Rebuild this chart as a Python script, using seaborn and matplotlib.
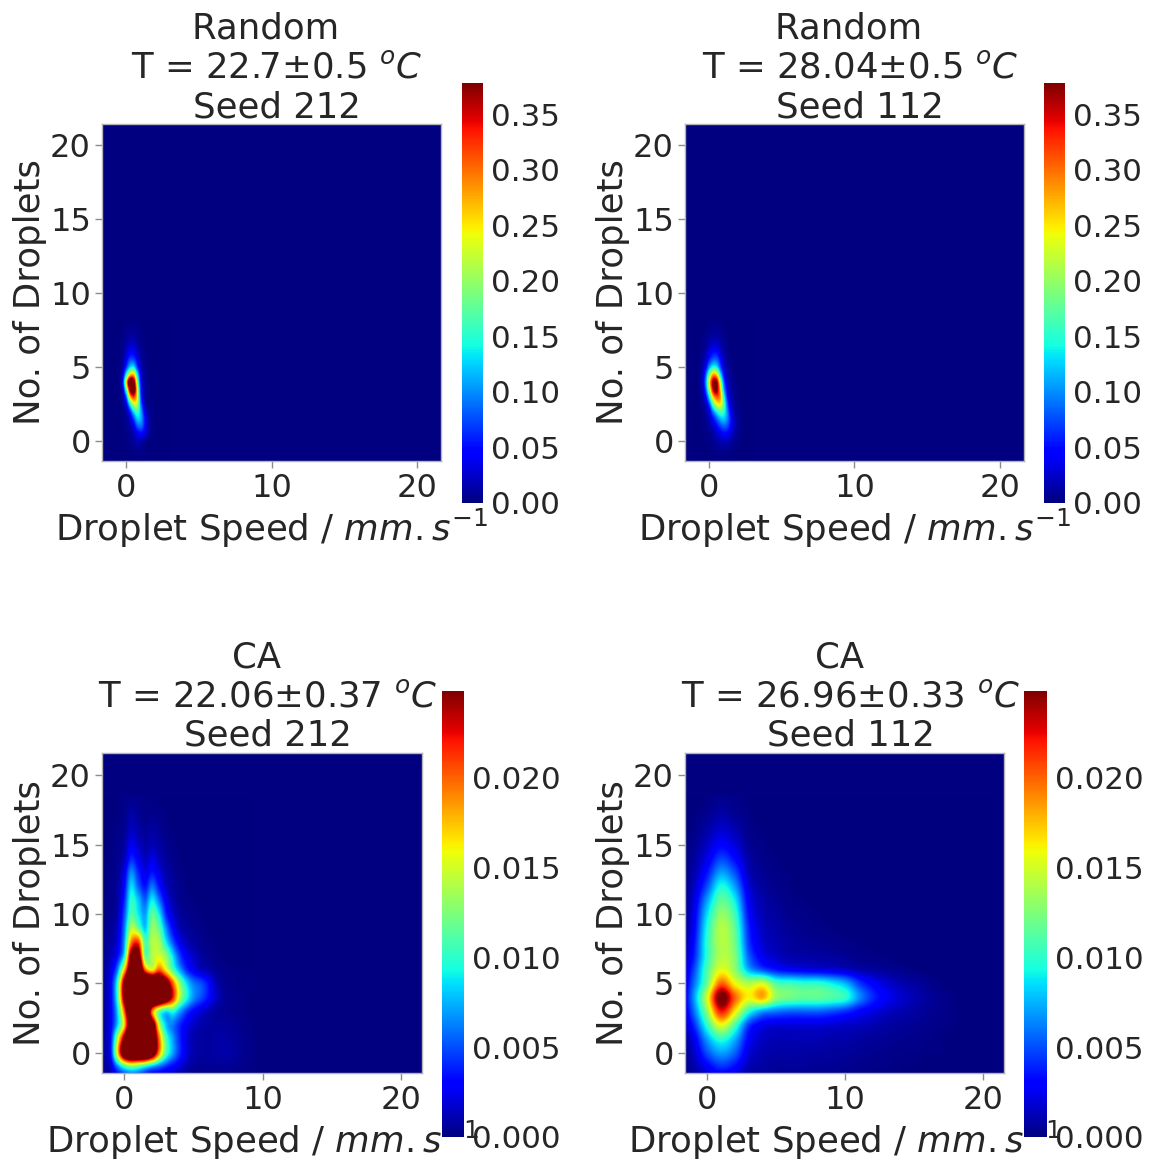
import numpy as np
import matplotlib
matplotlib.use("Agg")
import matplotlib.pyplot as plt
import seaborn as sns

sns.set_theme(style="ticks")
plt.rcParams["font.family"] = ["DejaVu Sans"]
plt.rcParams["mathtext.default"] = "it"
plt.rcParams["mathtext.fontset"] = "dejavusans"

TEXT = ".15"
FS_LABEL = 25.6
FS_TICK = 23
FS_CBAR = 22.3
W, H = 1150, 1160

# ---- data ---------------------------------------------------------------
# Top panels: cells of 0.25 (speed) by 0.5 (droplets), values in units of 0.01
top_x = np.arange(-1, 3.01, 0.25)
top_y = np.arange(-1, 8.01, 0.5)
# bottom panels: values in units of 0.001
bl_x = np.arange(-2, 9.01, 0.5)
bl_y = np.arange(-2, 18.01, 1)
br_x = np.arange(-2, 20.01, 1)
br_y = np.arange(-2, 18.01, 1)

random_212 = [
    [0, 0, 0, 0, .1, .1, .1, .2, .2, .2, .1, .1],
    [0, 0, 0, .1, .1, .2, .4, .6, .5, .3, .1, .1],
    [0, 0, 0, .1, .2, .5, 1.2, 1.8, 1.5, .7, .2, .1],
    [0, 0, 0, .1, .3, .7, 1.5, 3.5, 4.5, 3.2, 1.3, .4, .1],
    [0, 0, 0, .2, .5, 1.2, 3.5, 7.5, 8.5, 5, 1.6, .5, .1],
    [0, 0, 0, .2, .7, 2.5, 7, 12, 11, 5.5, 1.6, .5, .1],
    [0, 0, .1, .4, 1.5, 6, 13, 16, 11, 4, 1, .4, .1],
    [0, 0, .1, .8, 4, 14, 22, 21, 9, 2, .5, .2, .1],
    [0, 0, .2, 1.6, 9, 26, 32, 24, 7, 1.3, .4, .1, .1],
    [0, 0, .3, 3, 18, 38, 42, 24, 6, 1.3, .4, .1],
    [0, 0, .4, 5, 26, 44, 40, 20, 4.5, 1, .3, .1],
    [0, 0, .4, 3.5, 15, 26, 27, 14, 3.5, 1, .3, .1],
    [0, 0, .3, 1.5, 7, 13, 14, 7, 2, .6, .1],
    [0, 0, .2, 1, 4, 7.5, 7.5, 4, 1.2, .4, .1],
    [0, 0, .1, .8, 2.3, 4.3, 4.3, 2.3, .8, .3, .1],
    [0, 0, .1, .5, 1.4, 2.5, 2.5, 1.4, .5, .2],
    [0, 0, .1, .3, .8, 1.2, 1.2, .8, .3, .2],
    [0, 0, 0, .2, .4, .6, .6, .4, .2, .1],
    [0, 0, 0, .1, .2, .3, .3, .2, .1],
]

random_112 = [
    [0, 0, .1, .1, .1, .2, .2, .2, .2, .2, .2, .1, .1],
    [0, .1, .1, .1, .2, .3, .5, .7, .7, .6, .4, .2, .1, .1],
    [0, .1, .1, .2, .3, .6, 1.2, 1.8, 2, 1.7, 1.1, .6, .3, .1],
    [0, .1, .1, .2, .5, 1.1, 2.3, 3.5, 4.5, 3.9, 2.5, 1.3, .5, .2, .1],
    [0, .1, .2, .4, 1.1, 2.3, 4.6, 6.8, 8, 7, 4, 1.8, .8, .3, .1],
    [0, .1, .2, .7, 1.8, 4.6, 8, 11, 12, 9.2, 4.6, 1.8, .7, .2, .1],
    [0, .1, .3, 1.2, 3.5, 9.5, 14, 17, 15, 9.2, 3.5, 1.4, .6, .2, .1],
    [0, .1, .6, 2.2, 7.5, 17, 23, 24, 17, 7.5, 2.4, .9, .3, .1],
    [0, .2, 1, 4.5, 14, 26, 31, 28, 15, 5, 1.6, .6, .2, .1],
    [0, .4, 1.6, 8, 21, 35, 38, 26, 11, 3.7, 1.2, .5, .1],
    [0, .4, 2, 10, 25, 37, 37, 22, 8, 2.5, .9, .3, .1],
    [0, .4, 1.8, 8, 19, 28, 26, 14, 5, 1.6, .6, .2, .1],
    [0, .3, 1.3, 4.5, 11, 15, 14, 8, 3, 1.1, .4, .1],
    [0, .2, .8, 2.6, 6, 8.5, 8.5, 5, 2, .7, .2, .1],
    [0, .1, .5, 1.5, 3.5, 5, 5, 3, 1.2, .5, .1],
    [0, .1, .3, .8, 1.8, 2.7, 2.7, 1.7, .8, .3, .1],
    [0, 0, .2, .5, 1, 1.4, 1.4, 1, .5, .2],
    [0, 0, .1, .2, .5, .7, .7, .5, .2, .1],
    [0, 0, 0, .1, .2, .3, .3, .2, .1],
]

ca_212 = [
    [.3, .4, .7, 1.5, 2.5, 3, 3, 2.5, 2, 1.5, 1, .7, .5, .3, .2, .2, .2, .2, .2, .2, .2, .2, .1],
    [.3, .6, 1.5, 6, 10, 12, 11, 9, 7, 5.5, 4, 3, 2, 1, .6, .5, .5, .5, .5, .5, .4, .3, .2],
    [.4, .8, 3, 16, 30, 36, 36, 36, 30, 19, 11, 7, 4, 2, 1, .8, .7, .8, .9, .9, .7, .4, .3],
    [.4, .8, 3, 14, 26, 38, 38, 38, 32, 20, 11, 7, 4, 2, 1, .8, .7, .8, .9, .8, .6, .4, .3],
    [.4, .7, 2.5, 8, 17, 32, 38, 38, 30, 15, 8, 6, 4, 2.5, 1.5, 1, .8, .7, .7, .6, .5, .3, .2],
    [.3, .7, 2.5, 8, 20, 34, 40, 36, 20, 12, 9, 10, 7, 4.5, 3, 2, 1.2, .7, .5, .4, .3, .2, .1],
    [.3, .7, 2.5, 10, 26, 38, 42, 42, 40, 36, 30, 22, 14, 9.5, 6.5, 5, 3.5, 1.8, .8, .4, .3, .2, .1],
    [.3, .7, 2.5, 10, 26, 38, 42, 40, 38, 34, 28, 20, 13, 8.5, 6, 5, 3.5, 1.5, .6, .3, .2, .1, .1],
    [.3, .6, 2, 6, 17, 30, 34, 20, 16, 20, 16, 11, 7, 4, 2.5, 1.5, 1, .5, .3, .2, .1, .1, .1],
    [.3, .5, 1.2, 3, 9, 26, 28, 12, 14, 15, 13, 8.5, 4.5, 2.5, 1.5, .8, .4, .2, .1],
    [.2, .4, .8, 2, 7, 19, 21, 11, 14, 13.5, 9, 5, 2.5, 1.2, .7, .4, .2, .1],
    [.2, .3, .6, 1.5, 6, 14, 12, 8, 13, 11.5, 6.5, 3, 1.2, .7, .4, .2, .1],
    [.1, .2, .4, 1, 5, 11, 9, 7, 11.5, 9, 4, 1.8, .7, .4, .2, .1],
    [.1, .2, .3, .8, 4, 10, 8, 5.5, 9, 6, 2.5, 1, .4, .2, .1],
    [.1, .1, .3, .7, 3, 8.5, 5.5, 3.5, 6, 3.5, 1.5, .7, .3, .1],
    [.1, .1, .2, .5, 2.2, 6.5, 4, 2.2, 3.5, 2.2, 1, .5, .2, .1],
    [0, .1, .1, .4, 1.2, 4, 2.6, 1.4, 2.2, 1.3, .6, .3, .1],
    [0, 0, .1, .3, .8, 2.5, 1.6, .8, 1.2, .8, .4, .2],
    [0, 0, .1, .2, .5, 1.5, 1, .5, .8, .5, .2, .1],
    [0, 0, 0, .1, .3, 1, .6, .3, .4, .3, .1],
    [0, 0, 0, .1, .2, .5, .3, .2, .2, .1],
]

ca_112 = [
    [.1, .4, 1.2, 1.8, 1.2, .6, .5, .4, .4, .3, .3, .3, .2, .2, .1, .1, .1],
    [.2, .9, 2.7, 4.2, 3.2, 1.2, .8, .6, .6, .6, .5, .5, .4, .3, .2, .2, .1, .1],
    [.3, 1.4, 5, 7, 5.5, 2, 1.1, .9, .9, .8, .8, .7, .6, .5, .4, .3, .2, .2, .1, .1],
    [.4, 2.2, 7, 10, 7.5, 3, 1.5, 1.2, 1.2, 1.2, 1.2, 1, 1, .8, .6, .5, .4, .3, .2, .1],
    [.5, 3.8, 10, 15.5, 11, 4.5, 2.5, 2, 2, 2, 2, 1.8, 1.6, 1.4, 1.1, .8, .6, .5, .3, .2, .1],
    [.6, 5.5, 13, 22, 16.5, 10, 7, 6, 5.5, 5.5, 5.5, 5, 4.2, 3, 2.2, 1.5, 1.1, .8, .5, .3, .1],
    [.7, 6.5, 15, 26, 20, 16, 18, 13, 12, 11.5, 11.5, 11, 10, 6.5, 4, 2.6, 1.7, 1.1, .6, .3, .1],
    [.6, 5.5, 12, 20, 16, 14, 15, 11, 10.5, 10, 10, 9, 7.5, 4.5, 2.8, 1.8, 1.1, .7, .4, .1],
    [.5, 4.5, 11, 15.5, 13, 7.5, 5, 3.5, 2.8, 2.5, 2.2, 2, 1.6, 1, .7, .5, .3, .1],
    [.4, 3.5, 10, 14, 12.5, 5.5, 2.5, 1.5, 1, .9, .8, .7, .5, .3, .2, .1],
    [.3, 3, 10, 14, 12, 4.5, 1.8, 1.1, .7, .5, .4, .3, .2, .1],
    [.3, 2.5, 9.5, 14, 11.5, 4, 1.5, .9, .5, .3, .2, .1],
    [.2, 2.2, 8.5, 13, 10.5, 3.3, 1.2, .7, .3, .2, .1],
    [.2, 1.8, 7, 11.5, 9, 2.7, 1, .5, .2, .1],
    [.2, 1.3, 5, 9.5, 7, 2, .7, .3, .1],
    [.1, .9, 3.5, 7, 5, 1.3, .5, .2, .1],
    [.1, .6, 2.3, 4.7, 3.2, .9, .3, .1],
    [0, .4, 1.5, 3, 2, .5, .2],
    [0, .2, .9, 1.8, 1.2, .3, .1],
    [0, .1, .5, 1, .6, .2],
    [0, 0, .2, .5, .3, .1],
]

top_ticks = [0.00, 0.05, 0.10, 0.15, 0.20, 0.25, 0.30, 0.35]
bot_ticks = [0.000, 0.005, 0.010, 0.015, 0.020]
xticks_ = [0, 10, 20]
yticks_ = [0, 5, 10, 15, 20]
xlabel_ = "Droplet Speed / $mm.s^{-1}$"
ylabel_ = "No. of Droplets"

# name, T, seed, data, unit, xs, ys, axes px (l, t, r, b), cbar px (l, t, r, b),
# x limits, y limits, vmax, ticks, tick format, title centre px
panels = [
    ("Random  ", "T = 22.7±0.5 $^oC$", "Seed 212", random_212, 0.01, top_x, top_y,
     (102, 124, 441, 461), (462, 83, 483, 503), (-1.65, 21.65), (-1.35, 21.4),
     0.378, top_ticks, "%.2f", 277),
    ("Random  ", "T = 28.04±0.5 $^oC$", "Seed 112", random_112, 0.01, top_x, top_y,
     (685, 124, 1024, 461), (1044, 83, 1065, 503), (-1.65, 21.65), (-1.35, 21.4),
     0.378, top_ticks, "%.2f", 860),
    ("CA  ", "T = 22.06±0.37 $^oC$", "Seed 212", ca_212, 0.001, bl_x, bl_y,
     (102, 753, 422, 1073), (442, 691, 464, 1137), (-1.6, 21.5), (-1.45, 21.6),
     0.0248, bot_ticks, "%.3f", 268),
    ("CA  ", "T = 26.96±0.33 $^oC$", "Seed 112", ca_112, 0.001, br_x, br_y,
     (685, 753, 1004, 1073), (1024, 691, 1047, 1137), (-1.6, 21.5), (-1.45, 21.6),
     0.0248, bot_ticks, "%.3f", 851),
]


def rect(box):
    l, t, r, b = box
    return [l / W, 1 - b / H, (r - l) / W, (b - t) / H]


def grid(rows, n):
    return np.array([r + [0] * (n - len(r)) for r in rows], dtype=float)


cmap = matplotlib.colormaps["jet"]
fig = plt.figure(figsize=(W / 100, H / 100), dpi=100)

for name, temp, seed, rows, unit, xs, ys, abox, cbox, xlim, ylim, vmax, cticks, cfmt, tc in panels:
    ax = fig.add_axes(rect(abox))
    ax.set_facecolor(cmap(0.0))
    z = grid(rows, len(xs)) * unit
    dx, dy = xs[1] - xs[0], ys[1] - ys[0]
    im = ax.imshow(z, origin="lower", cmap=cmap, vmin=0, vmax=vmax, aspect="auto",
                   interpolation="catrom", interpolation_stage="data",
                   extent=(xs[0] - dx / 2, xs[-1] + dx / 2, ys[0] - dy / 2, ys[-1] + dy / 2))
    ax.set_xlim(*xlim)
    ax.set_ylim(*ylim)
    ax.set_xticks(xticks_)
    ax.set_yticks(yticks_)
    ax.tick_params(labelsize=FS_TICK, labelcolor=TEXT, color=".55", length=5, width=1)
    ax.tick_params(axis="x", pad=3.5)
    ax.tick_params(axis="y", pad=3)
    ax.set_xlabel(xlabel_, fontsize=FS_LABEL, color=TEXT, labelpad=2)
    ax.set_ylabel(ylabel_, fontsize=FS_LABEL, color=TEXT, labelpad=2)
    for s in ax.spines.values():
        s.set_color(".7")
        s.set_linewidth(1)
    ax.set_title(f"{name}\n{temp}\n{seed}", fontsize=FS_LABEL, color=TEXT, linespacing=1.2,
                 x=(tc - abox[0]) / (abox[2] - abox[0]), pad=2)

    cax = fig.add_axes(rect(cbox))
    cb = fig.colorbar(im, cax=cax, ticks=cticks, format=cfmt)
    cb.ax.tick_params(labelsize=FS_CBAR, labelcolor=TEXT, length=0, pad=6)
    cb.outline.set_visible(False)

fig.savefig("out.png", dpi=100)
